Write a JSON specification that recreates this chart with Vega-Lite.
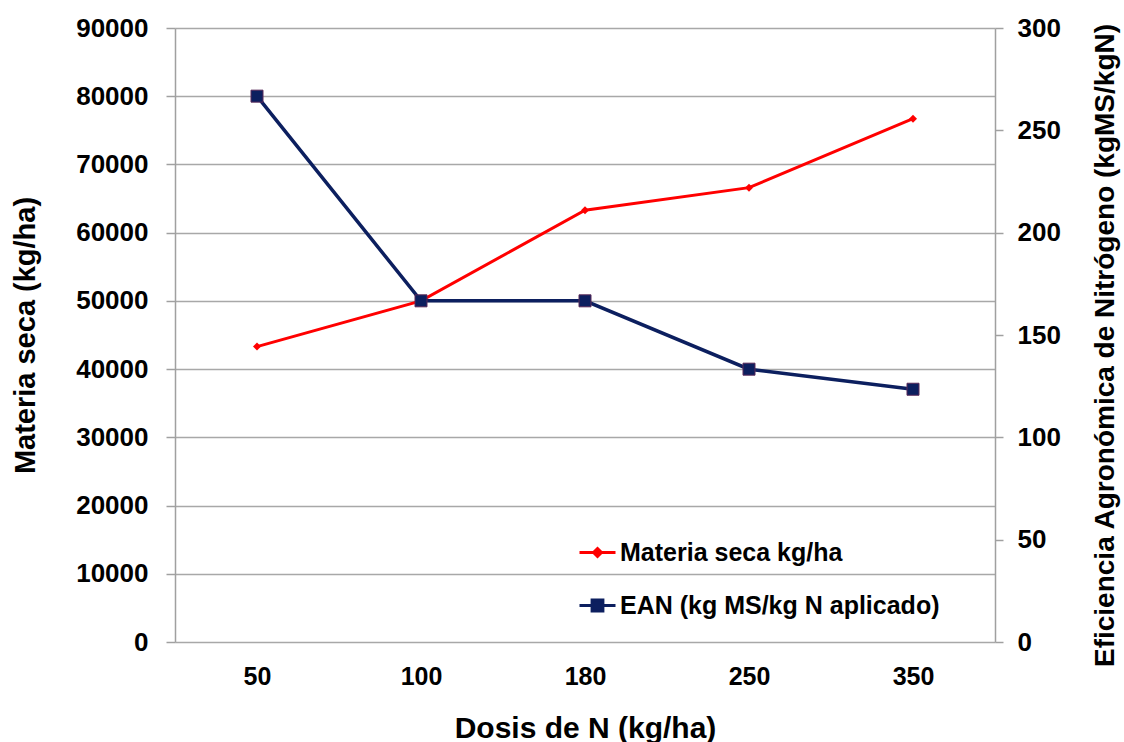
{
  "$schema": "https://vega.github.io/schema/vega-lite/v6.json",
  "width": 820,
  "height": 614,
  "autosize": {"type": "none"},
  "padding": {"left": 175, "top": 28, "right": 129, "bottom": 100},
  "background": "white",
  "config": {
    "view": {"stroke": null},
    "font": "Liberation Sans",
    "axis": {
      "labelFont": "Liberation Sans",
      "labelFontWeight": "bold",
      "labelColor": "#000000",
      "titleFont": "Liberation Sans",
      "titleFontWeight": "bold",
      "titleColor": "#000000",
      "domainColor": "#a0a0a0",
      "domainWidth": 1.5,
      "tickColor": "#a0a0a0",
      "tickWidth": 1.5,
      "gridColor": "#a8a8a8",
      "gridWidth": 1.5,
      "gridOpacity": 1
    },
    "legend": {"labelFont": "Liberation Sans"}
  },
  "data": {
    "values": [
      {"dosis": 50, "ms": 43300, "ean": 266.7},
      {"dosis": 100, "ms": 50000, "ean": 166.7},
      {"dosis": 180, "ms": 63300, "ean": 166.7},
      {"dosis": 250, "ms": 66600, "ean": 133.3},
      {"dosis": 350, "ms": 76700, "ean": 123.5}
    ]
  },
  "encoding": {
    "x": {
      "field": "dosis",
      "type": "ordinal",
      "scale": {"type": "point", "padding": 0.5},
      "axis": {
        "title": "Dosis de N (kg/ha)",
        "labelAngle": 0,
        "labelFontSize": 25,
        "labelPadding": 22,
        "ticks": false,
        "domain": false,
        "titleFontSize": 30,
        "titleX": 410,
        "titleY": 86,
        "titleBaseline": "middle",
        "titleAlign": "center"
      }
    }
  },
  "layer": [
    {
      "encoding": {
        "y": {
          "field": "ms",
          "type": "quantitative",
          "scale": {"domain": [0, 90000], "nice": false},
          "axis": {
            "orient": "left",
            "title": "Materia seca (kg/ha)",
            "values": [0, 10000, 20000, 30000, 40000, 50000, 60000, 70000, 80000, 90000],
            "format": "d",
            "grid": true,
            "tickSize": 9,
            "labelPadding": 18,
            "labelFontSize": 26,
            "titleFontSize": 29,
            "titleAngle": -90,
            "titleX": -150,
            "titleY": 307,
            "titleAlign": "center",
            "titleBaseline": "middle"
          }
        }
      },
      "layer": [
        {
          "mark": {"type": "line", "color": "#ff0000", "strokeWidth": 3},
          "encoding": {
            "color": {
              "datum": "Materia seca kg/ha",
              "type": "nominal",
              "scale": {
                "domain": ["Materia seca kg/ha", "EAN (kg MS/kg N aplicado)"],
                "range": ["#ff0000", "#0c1f5f"]
              },
              "legend": {
                "title": null,
                "orient": "none",
                "legendX": 403,
                "legendY": 505,
                "labelFontSize": 25,
                "labelFontWeight": "bold",
                "labelColor": "#000000",
                "labelLimit": 0,
                "labelOffset": 3,
                "rowPadding": 20,
                "symbolSize": 1296,
                "symbolStrokeWidth": 3,
                "encode": {
                  "symbols": {
                    "update": {
                      "shape": {"signal": "datum.value === 'Materia seca kg/ha' ? 'M-1,0H1M0,-0.22L0.22,0L0,0.22L-0.22,0Z' : 'M-1,0H1M-0.3,-0.3H0.3V0.3H-0.3Z'"},
                      "fill": {"signal": "scale('color', datum.value)"},
                      "stroke": {"signal": "scale('color', datum.value)"},
                      "strokeWidth": {"value": 3},
                      "opacity": {"value": 1},
                      "fillOpacity": {"value": 1},
                      "size": {"value": 1296}
                    }
                  }
                }
              }
            }
          }
        },
        {
          "mark": {"type": "point", "shape": "diamond", "filled": true, "color": "#ff0000", "size": 64, "opacity": 1}
        }
      ]
    },
    {
      "encoding": {
        "y": {
          "field": "ean",
          "type": "quantitative",
          "scale": {"domain": [0, 300], "nice": false},
          "axis": {
            "orient": "right",
            "title": "Eficiencia Agronómica de Nitrógeno (kgMS/kgN)",
            "values": [0, 50, 100, 150, 200, 250, 300],
            "grid": false,
            "tickSize": 8,
            "labelPadding": 14,
            "labelFontSize": 26,
            "titleFontSize": 28,
            "titleAngle": -90,
            "titleX": 110,
            "titleY": 317,
            "titleAlign": "center",
            "titleBaseline": "middle"
          }
        }
      },
      "layer": [
        {
          "mark": {"type": "line", "color": "#0c1f5f", "strokeWidth": 3.5},
          "encoding": {
            "color": {"datum": "EAN (kg MS/kg N aplicado)", "type": "nominal"}
          }
        },
        {
          "mark": {"type": "point", "shape": "square", "filled": true, "color": "#0c1f5f", "stroke": "#5a2a5a", "strokeWidth": 1, "size": 144, "opacity": 1}
        }
      ]
    }
  ],
  "resolve": {"scale": {"y": "independent"}}
}
